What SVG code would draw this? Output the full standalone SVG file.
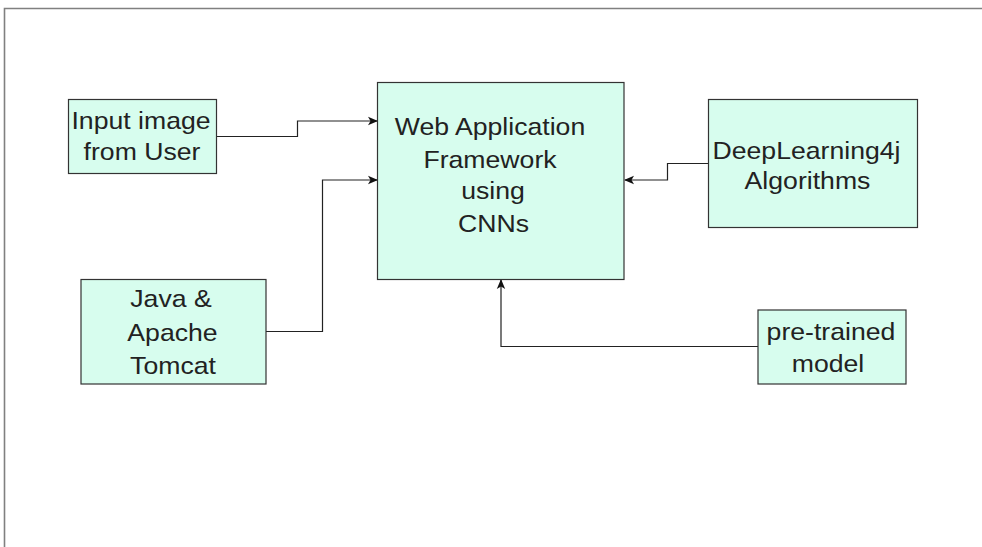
<svg xmlns="http://www.w3.org/2000/svg" width="982" height="547" viewBox="0 0 982 547">
  <style>
    .box { fill: #d7fdee; stroke: #333333; stroke-width: 1.2; }
    .lbl { font-family: "Liberation Sans", Arial, sans-serif; font-size: 24px; fill: #222222; text-anchor: middle; }
    .edge { fill: none; stroke: #222222; stroke-width: 1.2; }
    .frame { fill: none; stroke: #808080; stroke-width: 1.6; }
  </style>
  <defs>
    <marker id="arrow" viewBox="0 0 10 10" refX="9" refY="5" markerWidth="10" markerHeight="10" markerUnits="userSpaceOnUse" orient="auto">
      <path d="M0,0.8 L10,5 L0,9.2 L2.5,5 Z" fill="#111111"/>
    </marker>
  </defs>
  <rect width="982" height="547" fill="#ffffff"/>
  <path class="frame" d="M4.5,547 L4.5,8.5 L982,8.5"/>

  <g id="connectors">
    <path class="edge" d="M217,136.5 L297.5,136.5 L297.5,121 L377,121" marker-end="url(#arrow)"/>
    <path class="edge" d="M266,331.5 L322.5,331.5 L322.5,180 L377,180" marker-end="url(#arrow)"/>
    <path class="edge" d="M708,163.5 L667.5,163.5 L667.5,180 L625,180" marker-end="url(#arrow)"/>
    <path class="edge" d="M758,346.5 L501,346.5 L501,280" marker-end="url(#arrow)"/>
  </g>

  <g id="input-image">
    <rect class="box" x="68.5" y="99.5" width="148" height="74"/>
    <text class="lbl" transform="translate(141,128.5) scale(1.11,1)">Input image</text>
    <text class="lbl" transform="translate(142,160) scale(1.11,1)">from User</text>
  </g>

  <g id="java-tomcat">
    <rect class="box" x="81" y="279.5" width="185" height="104.5"/>
    <text class="lbl" transform="translate(171,306.5) scale(1.11,1)">Java &amp;</text>
    <text class="lbl" transform="translate(172.5,341) scale(1.11,1)">Apache</text>
    <text class="lbl" transform="translate(173,373.5) scale(1.11,1)">Tomcat</text>
  </g>

  <g id="web-app">
    <rect class="box" x="377.5" y="82.5" width="246.5" height="197"/>
    <text class="lbl" transform="translate(490,135) scale(1.11,1)">Web Application</text>
    <text class="lbl" transform="translate(490,167.5) scale(1.11,1)">Framework</text>
    <text class="lbl" transform="translate(493,198.5) scale(1.11,1)">using</text>
    <text class="lbl" transform="translate(493.5,231.5) scale(1.11,1)">CNNs</text>
  </g>

  <g id="deeplearning4j">
    <rect class="box" x="708.5" y="99.5" width="209" height="128"/>
    <text class="lbl" transform="translate(806.5,158.5) scale(1.11,1)">DeepLearning4j</text>
    <text class="lbl" transform="translate(807.5,188.5) scale(1.11,1)">Algorithms</text>
  </g>

  <g id="pretrained-model">
    <rect class="box" x="758" y="310" width="148" height="74"/>
    <text class="lbl" transform="translate(831,340) scale(1.11,1)">pre-trained</text>
    <text class="lbl" transform="translate(828,371.5) scale(1.11,1)">model</text>
  </g>
</svg>
